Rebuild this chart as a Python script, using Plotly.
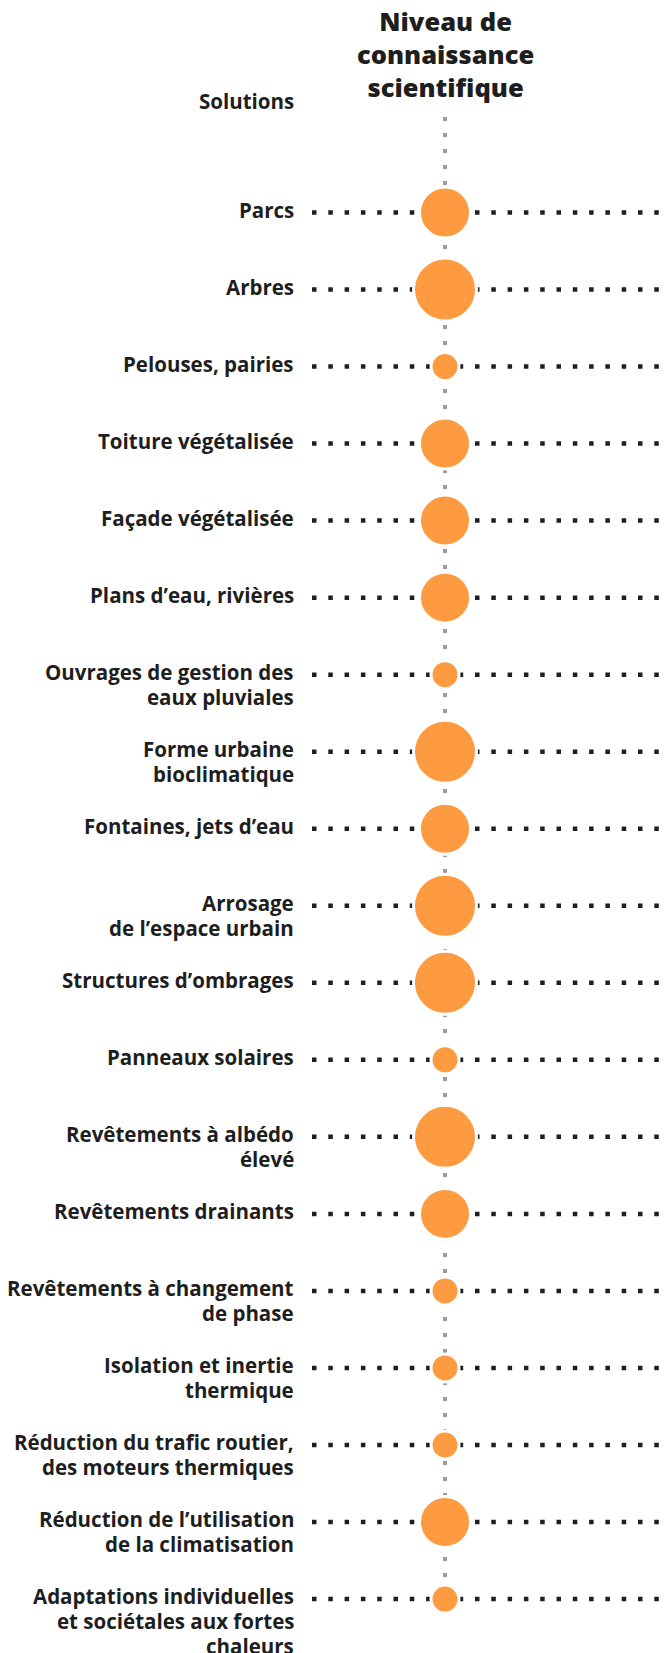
import plotly.graph_objects as go

# ---- data ----
solutions = [
    "Parcs",
    "Arbres",
    "Pelouses, pairies",
    "Toiture végétalisée",
    "Façade végétalisée",
    "Plans d’eau, rivières",
    "Ouvrages de gestion des<br>eaux pluviales",
    "Forme urbaine<br>bioclimatique",
    "Fontaines, jets d’eau",
    "Arrosage<br>de l’espace urbain",
    "Structures d’ombrages",
    "Panneaux solaires",
    "Revêtements à albédo<br>élevé",
    "Revêtements drainants",
    "Revêtements à changement<br>de phase",
    "Isolation et inertie<br>thermique",
    "Réduction du trafic routier,<br>des moteurs thermiques",
    "Réduction de l’utilisation<br>de la climatisation",
    "Adaptations individuelles<br>et sociétales aux fortes<br>chaleurs",
]
# knowledge level: 1 = low, 2 = medium, 3 = high
knowledge_level = [2, 3, 1, 2, 2, 2, 1, 3, 2, 3, 3, 1, 3, 2, 1, 1, 1, 2, 1]

header_title = "Niveau de<br>connaissance<br>scientifique"
header_solutions = "Solutions"

# ---- style ----
W, H = 669, 1653
OFFSET = 8  # page body margin: figure starts 8px from the window edge
ROW0_PX, ROW_STEP_PX = 212.5, 77.03
COL_X = 445
LABEL_X = 296
LINE_START_X = 312
LABEL_LINE_PX = 25
ORANGE = "#FE9B41"
TEXT = "#1e1e1e"
FONT = "Open Sans"
SIZE_MAP = {1: 28, 2: 51, 3: 63}


def px_to_y(py):
    return (py - ROW0_PX) / ROW_STEP_PX


n = len(solutions)
rows = list(range(n))

fig = go.Figure()

# vertical grey dotted guide
fig.add_trace(go.Scatter(
    x=[COL_X, COL_X], y=[px_to_y(117), rows[-1]],
    mode="lines", line=dict(color="#9b9b9b", width=4, dash="4px,12px"),
    hoverinfo="skip", showlegend=False))

# horizontal black dotted lines
hx, hy = [], []
for r in rows:
    hx += [LINE_START_X, W + 5, None]
    hy += [r, r, None]
fig.add_trace(go.Scatter(
    x=hx, y=hy, mode="lines",
    line=dict(color="#1f1f1f", width=4.5, dash="4.5px,11.8px"),
    hoverinfo="skip", showlegend=False))

# bubbles
fig.add_trace(go.Scatter(
    x=[COL_X] * n, y=rows, mode="markers",
    marker=dict(size=[SIZE_MAP[v] for v in knowledge_level], color=ORANGE,
                opacity=1, line=dict(color="white", width=3)),
    hoverinfo="skip", showlegend=False))

annotations = []
label_font = dict(family=FONT, size=20.5, color=TEXT, weight="bold")
for r, lab in zip(rows, solutions):
    for k, line in enumerate(lab.split("<br>")):
        annotations.append(dict(
            x=LABEL_X, y=r, xref="x", yref="y", text=line, showarrow=False,
            xanchor="right", yanchor="middle", align="right",
            yshift=3 - k * LABEL_LINE_PX, font=label_font))

annotations.append(dict(
    x=COL_X, y=px_to_y(54), xref="x", yref="y", text=header_title,
    showarrow=False, xanchor="center", yanchor="middle", align="center",
    font=dict(family=FONT, size=25.5, color=TEXT, weight=800)))

annotations.append(dict(
    x=LABEL_X, y=px_to_y(101), xref="x", yref="y", text=header_solutions,
    showarrow=False, xanchor="right", yanchor="middle", align="right",
    font=label_font))

fig.update_layout(
    width=W, height=H,
    margin=dict(l=0, r=0, t=0, b=0),
    paper_bgcolor="white", plot_bgcolor="white",
    xaxis=dict(range=[OFFSET, OFFSET + W], visible=False, fixedrange=True),
    yaxis=dict(range=[px_to_y(OFFSET + H), px_to_y(OFFSET)], visible=False,
               fixedrange=True),
    annotations=annotations,
    showlegend=False,
)

fig.write_html("out.html")
